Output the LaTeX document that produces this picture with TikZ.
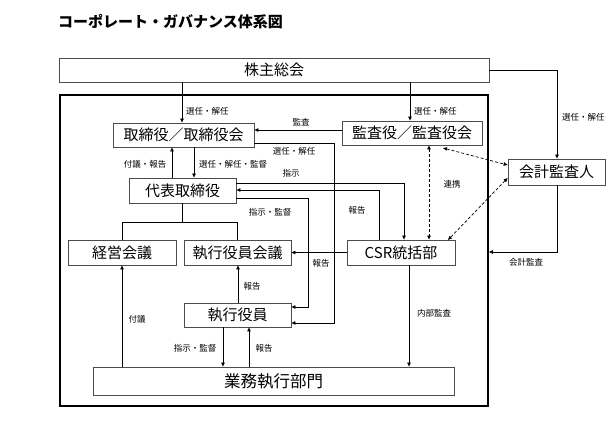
\documentclass[tikz,border=0pt]{standalone}
\usepackage{fontspec}
\setmainfont{Noto Sans CJK JP}
\usetikzlibrary{arrows.meta,calc}
\tikzset{
  box/.style={draw=black!70, line width=0.8pt, inner sep=0pt, font=\fontsize{15}{15}\selectfont},
  lbl/.style={inner sep=0pt, font=\fontsize{8.5}{8.5}\selectfont},
  arr/.style={line width=0.7pt, -{Triangle[length=4pt,width=3.4pt]}},
  ln/.style={line width=0.7pt},
  darr/.style={line width=0.7pt, dash pattern=on 3pt off 2pt, {Triangle[length=4pt,width=3.4pt]}-{Triangle[length=4pt,width=3.4pt]}},
}
\begin{document}
\begin{tikzpicture}[x=1pt,y=-1pt]
\useasboundingbox (0,0) rectangle (611,430);
% title
\node[anchor=west, inner sep=0pt, font=\fontsize{15}{15}\selectfont\bfseries] (title) at (58,22) {コーポレート・ガバナンス体系図};
% frame
\node[draw=black, line width=1.8pt, minimum width=428pt, minimum height=311pt, inner sep=0pt] (fr) at (274,250.5) {};
% boxes
\node[box, minimum width=430pt, minimum height=24pt] (sh) at (274,70) {株主総会};
\node[box, minimum width=141pt, minimum height=24pt] (tb) at (183.5,135) {取締役／取締役会};
\node[box, minimum width=140pt, minimum height=24pt] (ka) at (412,133) {監査役／監査役会};
\node[box, minimum width=97pt, minimum height=26pt, fill=white] (kk) at (556.5,172) {会計監査人};
\node[box, minimum width=107pt, minimum height=25pt] (dh) at (182.5,190.5) {代表取締役};
\node[box, minimum width=108pt, minimum height=25pt] (csr) at (401,252.5) {CSR統括部};
\node[box, minimum width=108pt, minimum height=25pt] (kei) at (122,252.5) {経営会議};
\node[box, minimum width=107pt, minimum height=25pt] (sk) at (237.5,252.5) {執行役員会議};
\node[box, minimum width=107pt, minimum height=24pt] (sy) at (237.5,315) {執行役員};
\node[box, minimum width=361pt, minimum height=28pt, font=\fontsize{16.5}{16.5}\selectfont] (gyo) at (273.5,381) {業務執行部門};
% shareholders connections
\draw[arr] (sh.south -| 182,0) -- (tb.north -| 182,0);
\node[lbl, anchor=west] (l1) at (186,111) {選任・解任};
\draw[arr] (sh.south -| 410,0) -- (ka.north -| 410,0);
\node[lbl, anchor=west] (l2) at (414,111) {選任・解任};
\draw[arr] (sh.east |- 0,70) -- (557,70) -- (kk.north -| 557,0);
\node[lbl, anchor=west] (l3) at (562,117) {選任・解任};
\draw[arr] (kk.south -| 557,0) -- (557,252) -- (fr.east |- 0,252);
\node[lbl] (l4) at (526,262) {会計監査};
% audit
\draw[arr] (ka.west |- 0,130) -- (tb.east |- 0,130);
\node[lbl] (l5) at (301,122) {監査};
% board -> executive officers
\draw[arr] (tb.east |- 0,143) -- (334,143) -- (334,323) -- (sy.east |- 0,323);
\node[lbl] (l6) at (294,151) {選任・解任};
% representative -> CSR
\draw[arr] (dh.east |- 0,183) -- (404,183) -- (csr.north -| 404,0);
\node[lbl] (l7) at (291,173) {指示};
% CSR -> representative
\draw[arr] (csr.north -| 379,0) -- (379,190) -- (dh.east |- 0,190);
\node[lbl] (l8) at (357,210) {報告};
% representative -> executive officers
\draw[arr] (dh.east |- 0,198) -- (308,198) -- (308,307) -- (sy.east |- 0,307);
\node[lbl] (l9) at (270,212) {指示・監督};
% board <-> representative
\draw[arr] (dh.north -| 172,0) -- (tb.south -| 172,0);
\node[lbl] (l10) at (145,164) {付議・報告};
\draw[arr] (tb.south -| 194,0) -- (dh.north -| 194,0);
\node[lbl, anchor=west] (l11) at (199,164) {選任・解任・監督};
% tree
\draw[ln] (dh.south -| 182,0) -- (182,222);
\draw[ln] (kei.north) -- (122,222) -- (237.5,222) -- (sk.north);
% CSR -> exec officers meeting
\draw[arr] (csr.west) -- (sk.east);
\node[lbl] (l12) at (321,263) {報告};
% exec officers -> meeting
\draw[arr] (sy.north -| 238,0) -- (sk.south -| 238,0);
\node[lbl] (l13) at (252,286) {報告};
% business -> management meeting
\draw[arr] (gyo.north -| 122,0) -- (kei.south);
\node[lbl] (l14) at (137,319) {付議};
% exec officers <-> business
\draw[arr] (sy.south -| 223,0) -- (gyo.north -| 223,0);
\node[lbl] (l15) at (195,348) {指示・監督};
\draw[arr] (gyo.north -| 249,0) -- (sy.south -| 249,0);
\node[lbl] (l16) at (264,348) {報告};
% internal audit
\draw[arr] (csr.south -| 409,0) -- (gyo.north -| 409,0);
\node[lbl] (l17) at (434,313) {内部監査};
% cooperation (dashed)
\draw[darr] (ka.south -| 429,0) -- (csr.north -| 429,0);
\draw[darr] (443,148) -- (kk.west |- 0,165);
\draw[darr] (kk.west |- 0,178) -- (448,240);
\node[lbl] (l18) at (452,184) {連携};
\end{tikzpicture}
\end{document}
